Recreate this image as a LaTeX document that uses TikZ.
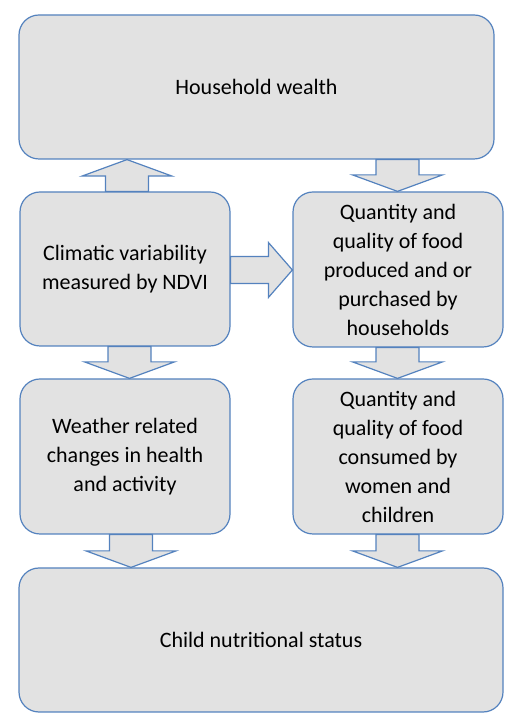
\documentclass[tikz,border=0pt]{standalone}
\usepackage{fontspec}
\setmainfont{Carlito}
\usetikzlibrary{calc}
\definecolor{boxline}{RGB}{84,130,190}
\definecolor{boxfill}{RGB}{226,226,226}

% block arrow up or down: x, from, to
\newcommand{\vflow}[3]{%
  \draw[flow] let \p1=(#2), \p2=(#3), \n1={\y2+16.5pt*sign(\y1-\y2)} in
    (#1pt-21.5pt,\y1) -- (#1pt-21.5pt,\n1) -- (#1pt-45pt,\n1) -- (#1pt,\y2)
    -- (#1pt+45pt,\n1) -- (#1pt+21.5pt,\n1) -- (#1pt+21.5pt,\y1) -- cycle;}
% block arrow to the right: y, from, to
\newcommand{\hflow}[3]{%
  \draw[flow] let \p1=(#2), \p2=(#3) in
    (\x1,#1pt-13.5pt) -- (\x2-24pt,#1pt-13.5pt) -- (\x2-24pt,#1pt-27.5pt) -- (\x2,#1pt)
    -- (\x2-24pt,#1pt+27.5pt) -- (\x2-24pt,#1pt+13.5pt) -- (\x1,#1pt+13.5pt) -- cycle;}

\begin{document}
\begin{tikzpicture}[x=1pt,y=1pt]
    \tikzstyle{block}=[draw=boxline, fill=boxfill, line width=1.2pt, rounded corners=20pt, align=center, font=\fontsize{22}{29}\selectfont, inner sep=0pt]
    \tikzstyle{flow}=[draw=boxline, fill=boxfill, line width=1.2pt, line join=miter]

    \useasboundingbox (0,0) rectangle (520,725);

    %%% DRAW THE BOXES
    \node[block, minimum width=475, minimum height=144] (wealth) at (256.5,638) {Household wealth};
    \node[block, minimum width=210, minimum height=154] (climate) at (125,456) {Climatic variability\\measured by NDVI};
    \node[block, minimum width=210, minimum height=155] (foodprod) at (398,455.5) {Quantity and\\quality of food\\produced and or\\purchased by\\households};
    \node[block, minimum width=210, minimum height=155] (weather) at (125,268.5) {Weather related\\changes in health\\and activity};
    \node[block, minimum width=210, minimum height=155] (foodcons) at (398,268.5) {Quantity and\\quality of food\\consumed by\\women and\\children};
    \node[block, minimum width=484, minimum height=144] (status) at (261,85) {Child nutritional status};

    %%% DRAW THE ARROWS
    \vflow{127}{climate.north}{wealth.south}
    \vflow{397.5}{wealth.south}{foodprod.north}
    \hflow{455}{climate.east}{foodprod.west}
    \vflow{129.5}{climate.south}{weather.north}
    \vflow{397.5}{foodprod.south}{foodcons.north}
    \vflow{131}{weather.south}{status.north}
    \vflow{397.5}{foodcons.south}{status.north}

\end{tikzpicture}
\end{document}
